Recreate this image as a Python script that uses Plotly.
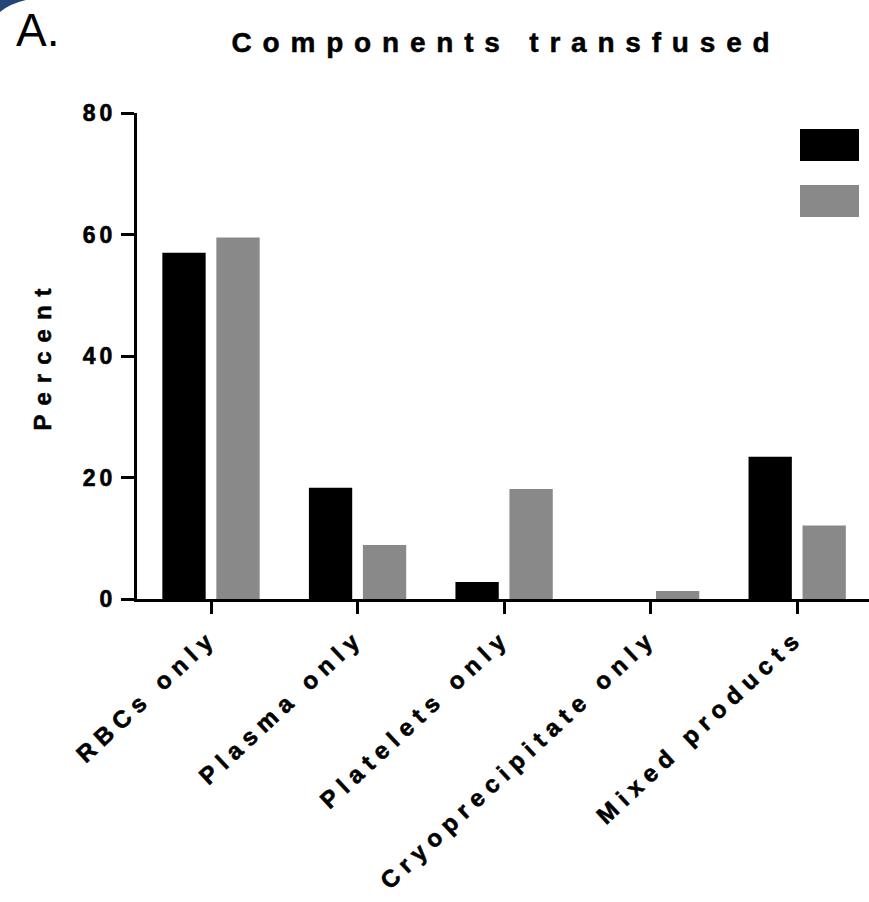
import plotly.graph_objects as go

categories = ["RBCs only", "Plasma only", "Platelets only", "Cryoprecipitate only", "Mixed products"]
series_black = [57.0, 18.3, 2.8, 0.0, 23.4]
series_gray = [59.5, 8.9, 18.1, 1.3, 12.1]
y_ticks = [0, 20, 40, 60, 80]

W, H = 869, 902
ML, MR, MT, MB = 137, 0, 113, 303
PW = W - ML - MR
PH = H - MT - MB

def px(x):
    return (x - ML) / PW

def py(y):
    return (H - MB - y) / PH

FONT = "Liberation Sans, Arial, sans-serif"

fig = go.Figure()
fig.add_trace(go.Bar(x=categories, y=series_black, marker=dict(color="#000000", line=dict(width=0)),
                     showlegend=False, name="Series 1"))
fig.add_trace(go.Bar(x=categories, y=series_gray, marker=dict(color="#898989", line=dict(width=0)),
                     showlegend=False, name="Series 2"))

shapes = [
    dict(type="rect", xref="paper", yref="paper", x0=px(800), x1=px(859), y0=py(161), y1=py(129),
         fillcolor="#000000", line=dict(width=0)),
    dict(type="rect", xref="paper", yref="paper", x0=px(800), x1=px(859), y0=py(217), y1=py(185),
         fillcolor="#898989", line=dict(width=0)),
    dict(type="path", xref="paper", yref="paper",
         path=f"M {px(0)},{py(0)} L {px(26)},{py(0)} Q {px(9)},{py(4)} {px(0)},{py(12)} Z",
         fillcolor="#23467a", line=dict(width=0)),
]

annotations = [
    dict(text="Percent", xref="paper", yref="paper", x=px(42), y=py(355), textangle=-90,
         showarrow=False, xanchor="center", yanchor="middle",
         font=dict(family=FONT, size=24, color="#000000", weight="bold")),
    dict(text="A.", xref="paper", yref="paper", x=px(14), y=py(30), showarrow=False,
         xanchor="left", yanchor="middle",
         font=dict(family=FONT, size=46, color="#000000")),
]

fig.update_layout(
    width=W, height=H,
    margin=dict(l=ML, r=MR, t=MT, b=MB, autoexpand=False),
    paper_bgcolor="white", plot_bgcolor="white",
    barmode="group", bargap=0.263, bargroupgap=0.198,
    title=dict(text="Components transfused", x=506 / W, xref="container", xanchor="center",
               y=1 - 42 / H, yref="container", yanchor="middle",
               font=dict(family=FONT, size=28, color="#000000", weight="bold")),
    xaxis=dict(type="category", range=[-0.505, 4.49], showline=True, linewidth=3, linecolor="#000000",
               ticks="outside", ticklen=12, tickwidth=3, tickcolor="#000000", tickangle=-43,
               showgrid=False, zeroline=False, automargin=False,
               tickfont=dict(family=FONT, size=24, color="#000000", weight="bold")),
    yaxis=dict(range=[0, 80], tickvals=y_ticks, showline=True, linewidth=3, linecolor="#000000",
               ticks="outside", ticklen=13, tickwidth=3, tickcolor="#000000",
               showgrid=False, zeroline=False, automargin=False,
               tickfont=dict(family=FONT, size=23, color="#000000", weight="bold")),
    shapes=shapes,
    annotations=annotations,
)

js = """
document.body.style.margin = '0px';
document.documentElement.style.overflow = 'hidden';
var st = document.createElement('style');
st.textContent = '.gtitle{letter-spacing:10.8px !important; stroke:#000; stroke-width:0.5px;} '
  + '.xtick text{letter-spacing:6.8px !important; stroke:#000; stroke-width:0.6px;} '
  + '.ytick text{letter-spacing:4px !important; stroke:#000; stroke-width:0.6px;} '
  + '.annotation[data-index="0"] text{letter-spacing:9px !important; stroke:#000; stroke-width:0.5px;}';
document.head.appendChild(st);
"""
fig.write_html("out.html", post_script=js, config={"displayModeBar": False})
